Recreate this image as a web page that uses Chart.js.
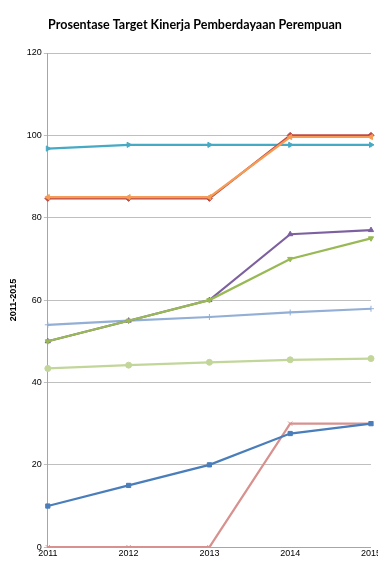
<!DOCTYPE html>
<html><head><meta charset="utf-8">
<script src="https://cdn.jsdelivr.net/npm/chart.js@4/dist/chart.umd.min.js"></script>
<style>html,body{margin:0;padding:0;background:#fff;overflow:hidden;width:378px;height:587px}
#wrap{position:absolute;left:0;top:0;width:382px;height:587px}</style>
</head><body>
<div id="wrap"><canvas id="c" width="382" height="587"></canvas></div>
<script>
const years = ['2011','2012','2013','2014','2015'];
const yTicks = [0,20,40,60,80,100,120];
const s1 = [10,15,20,27.6,30];
const s2 = [84.7,84.7,84.7,100,100];
const s3 = [50,55,60,70,75];
const s4 = [50,55,60,76,77];
const s5 = [96.8,97.7,97.7,97.7,97.7];
const s6 = [85,85,85,99.6,99.6];
const s7 = [54,55,55.9,57,57.9];
const s8 = [0,0,0,30,30];
const s9 = [43.4,44.2,44.9,45.5,45.8];

function ds(data,color,style,rot,order){
  return {data:data,borderColor:color,backgroundColor:color,borderWidth:2.2,order:order||0,
    pointStyle:style,pointRotation:rot||0,pointRadius:3,pointBorderWidth:1,tension:0};
}
new Chart(document.getElementById('c'),{
  type:'line',
  data:{labels:years,datasets:[
    ds(s1,'#4A7EBB','rect'),
    ds(s2,'#BE4B48','rectRot'),
    ds(s3,'#98B954','triangle',180),
    ds(s4,'#7D60A0','triangle'),
    ds(s5,'#46AAC5','triangle',90),
    ds(s6,'#F59D56','triangle',270,-1),
    ds(s7,'#93AFD5','cross'),
    ds(s8,'#D7928F','crossRot'),
    ds(s9,'#C2D69A','circle')
  ]},
  options:{
    responsive:false,animation:false,
    layout:{padding:{left:8,right:0,top:11,bottom:27}},
    plugins:{legend:{display:false},tooltip:{enabled:false},
      title:{display:true,text:'Prosentase Target Kinerja Pemberdayaan Perempuan',
        color:'#000',font:{family:'Lato',size:12.5,weight:'bold'},padding:{top:6,bottom:21}}},
    scales:{
      x:{offset:false,grid:{display:false,drawTicks:false},border:{color:'#a6a6a6',width:1},
        ticks:{color:'#000',font:{family:'Liberation Sans',size:9},padding:1,maxRotation:0,autoSkip:false}},
      y:{min:0,max:120,afterBuildTicks:(a)=>{a.ticks=yTicks.map(v=>({value:v}));},
        grid:{color:'#bfbfbf',lineWidth:1,tickLength:4},border:{color:'#a6a6a6',width:1},
        ticks:{color:'#000',font:{family:'Liberation Sans',size:9},padding:2},
        title:{display:true,text:'2011-2015',color:'#000',font:{family:'Liberation Sans',size:9,weight:'bold'},padding:{top:0,bottom:6}}}
    }
  }
});
</script>
</body></html>
